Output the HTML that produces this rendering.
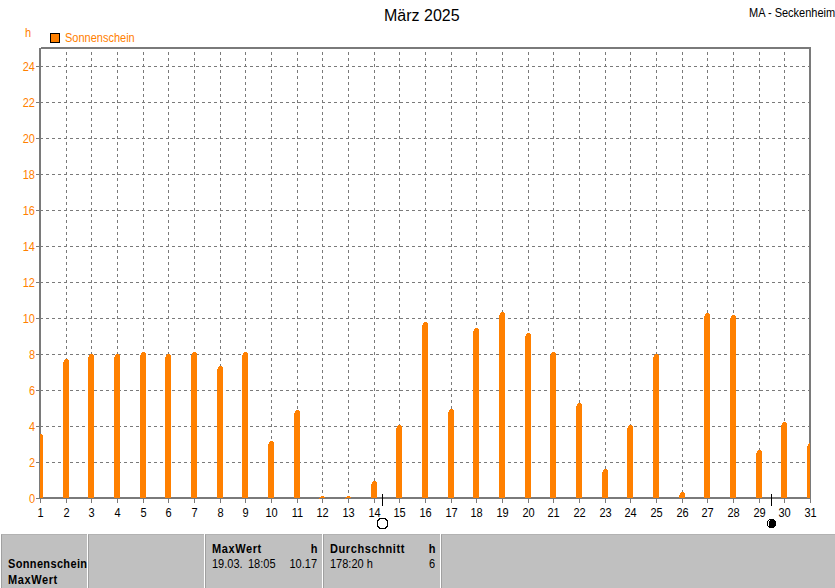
<!DOCTYPE html>
<html><head><meta charset="utf-8"><style>
html,body{margin:0;padding:0;background:#fff;}
body{width:835px;height:588px;position:relative;overflow:hidden;font-family:"Liberation Sans",sans-serif;font-size:11px;}
svg{position:absolute;left:0;top:0;}
.t{position:absolute;white-space:nowrap;line-height:13px;}
.s{transform:scaleY(1.125);transform-origin:0 0;}
.yl{left:0;width:35px;text-align:right;color:#FF8000;}
.xl{width:41px;text-align:center;color:#000;}
.title{font-size:16px;line-height:18px;}
.tab{position:absolute;top:534px;height:54px;background:#c0c0c0;border-top:1px solid #b2b2b2;border-left:1px solid #a0a0a0;box-sizing:border-box;overflow:hidden;}
.b{font-weight:bold;letter-spacing:0.6px;}
</style></head><body>
<svg width="835" height="588" viewBox="0 0 835 588" shape-rendering="crispEdges">
<defs><clipPath id="plot"><rect x="40" y="0" width="770" height="588"/></clipPath></defs>
<path d="M40 462.5H809" stroke="#7a7a7a" stroke-dasharray="3 3"/><path d="M40 426.5H809" stroke="#7a7a7a" stroke-dasharray="3 3"/><path d="M40 390.5H809" stroke="#7a7a7a" stroke-dasharray="3 3"/><path d="M40 354.5H809" stroke="#7a7a7a" stroke-dasharray="3 3"/><path d="M40 318.5H809" stroke="#7a7a7a" stroke-dasharray="3 3"/><path d="M40 282.5H809" stroke="#7a7a7a" stroke-dasharray="3 3"/><path d="M40 246.5H809" stroke="#7a7a7a" stroke-dasharray="3 3"/><path d="M40 210.5H809" stroke="#7a7a7a" stroke-dasharray="3 3"/><path d="M40 174.5H809" stroke="#7a7a7a" stroke-dasharray="3 3"/><path d="M40 138.5H809" stroke="#7a7a7a" stroke-dasharray="3 3"/><path d="M40 102.5H809" stroke="#7a7a7a" stroke-dasharray="3 3"/><path d="M40 66.5H809" stroke="#7a7a7a" stroke-dasharray="3 3"/><path d="M66.5 52V497" stroke="#7a7a7a" stroke-dasharray="3 3"/><path d="M91.5 52V497" stroke="#7a7a7a" stroke-dasharray="3 3"/><path d="M117.5 52V497" stroke="#7a7a7a" stroke-dasharray="3 3"/><path d="M143.5 52V497" stroke="#7a7a7a" stroke-dasharray="3 3"/><path d="M168.5 52V497" stroke="#7a7a7a" stroke-dasharray="3 3"/><path d="M194.5 52V497" stroke="#7a7a7a" stroke-dasharray="3 3"/><path d="M220.5 52V497" stroke="#7a7a7a" stroke-dasharray="3 3"/><path d="M245.5 52V497" stroke="#7a7a7a" stroke-dasharray="3 3"/><path d="M271.5 52V497" stroke="#7a7a7a" stroke-dasharray="3 3"/><path d="M297.5 52V497" stroke="#7a7a7a" stroke-dasharray="3 3"/><path d="M322.5 52V497" stroke="#7a7a7a" stroke-dasharray="3 3"/><path d="M348.5 52V497" stroke="#7a7a7a" stroke-dasharray="3 3"/><path d="M374.5 52V497" stroke="#7a7a7a" stroke-dasharray="3 3"/><path d="M399.5 52V497" stroke="#7a7a7a" stroke-dasharray="3 3"/><path d="M425.5 52V497" stroke="#7a7a7a" stroke-dasharray="3 3"/><path d="M451.5 52V497" stroke="#7a7a7a" stroke-dasharray="3 3"/><path d="M476.5 52V497" stroke="#7a7a7a" stroke-dasharray="3 3"/><path d="M502.5 52V497" stroke="#7a7a7a" stroke-dasharray="3 3"/><path d="M528.5 52V497" stroke="#7a7a7a" stroke-dasharray="3 3"/><path d="M553.5 52V497" stroke="#7a7a7a" stroke-dasharray="3 3"/><path d="M579.5 52V497" stroke="#7a7a7a" stroke-dasharray="3 3"/><path d="M605.5 52V497" stroke="#7a7a7a" stroke-dasharray="3 3"/><path d="M630.5 52V497" stroke="#7a7a7a" stroke-dasharray="3 3"/><path d="M656.5 52V497" stroke="#7a7a7a" stroke-dasharray="3 3"/><path d="M682.5 52V497" stroke="#7a7a7a" stroke-dasharray="3 3"/><path d="M707.5 52V497" stroke="#7a7a7a" stroke-dasharray="3 3"/><path d="M733.5 52V497" stroke="#7a7a7a" stroke-dasharray="3 3"/><path d="M759.5 52V497" stroke="#7a7a7a" stroke-dasharray="3 3"/><path d="M784.5 52V497" stroke="#7a7a7a" stroke-dasharray="3 3"/><rect x="36" y="498" width="3" height="1" fill="#7a7a7a"/><rect x="36" y="462" width="3" height="1" fill="#7a7a7a"/><rect x="36" y="426" width="3" height="1" fill="#7a7a7a"/><rect x="36" y="390" width="3" height="1" fill="#7a7a7a"/><rect x="36" y="354" width="3" height="1" fill="#7a7a7a"/><rect x="36" y="318" width="3" height="1" fill="#7a7a7a"/><rect x="36" y="282" width="3" height="1" fill="#7a7a7a"/><rect x="36" y="246" width="3" height="1" fill="#7a7a7a"/><rect x="36" y="210" width="3" height="1" fill="#7a7a7a"/><rect x="36" y="174" width="3" height="1" fill="#7a7a7a"/><rect x="36" y="138" width="3" height="1" fill="#7a7a7a"/><rect x="36" y="102" width="3" height="1" fill="#7a7a7a"/><rect x="36" y="66" width="3" height="1" fill="#7a7a7a"/><rect x="40" y="499" width="1" height="4" fill="#7a7a7a"/><rect x="66" y="499" width="1" height="4" fill="#7a7a7a"/><rect x="91" y="499" width="1" height="4" fill="#7a7a7a"/><rect x="117" y="499" width="1" height="4" fill="#7a7a7a"/><rect x="143" y="499" width="1" height="4" fill="#7a7a7a"/><rect x="168" y="499" width="1" height="4" fill="#7a7a7a"/><rect x="194" y="499" width="1" height="4" fill="#7a7a7a"/><rect x="220" y="499" width="1" height="4" fill="#7a7a7a"/><rect x="245" y="499" width="1" height="4" fill="#7a7a7a"/><rect x="271" y="499" width="1" height="4" fill="#7a7a7a"/><rect x="297" y="499" width="1" height="4" fill="#7a7a7a"/><rect x="322" y="499" width="1" height="4" fill="#7a7a7a"/><rect x="348" y="499" width="1" height="4" fill="#7a7a7a"/><rect x="374" y="499" width="1" height="4" fill="#7a7a7a"/><rect x="399" y="499" width="1" height="4" fill="#7a7a7a"/><rect x="425" y="499" width="1" height="4" fill="#7a7a7a"/><rect x="451" y="499" width="1" height="4" fill="#7a7a7a"/><rect x="476" y="499" width="1" height="4" fill="#7a7a7a"/><rect x="502" y="499" width="1" height="4" fill="#7a7a7a"/><rect x="528" y="499" width="1" height="4" fill="#7a7a7a"/><rect x="553" y="499" width="1" height="4" fill="#7a7a7a"/><rect x="579" y="499" width="1" height="4" fill="#7a7a7a"/><rect x="605" y="499" width="1" height="4" fill="#7a7a7a"/><rect x="630" y="499" width="1" height="4" fill="#7a7a7a"/><rect x="656" y="499" width="1" height="4" fill="#7a7a7a"/><rect x="682" y="499" width="1" height="4" fill="#7a7a7a"/><rect x="707" y="499" width="1" height="4" fill="#7a7a7a"/><rect x="733" y="499" width="1" height="4" fill="#7a7a7a"/><rect x="759" y="499" width="1" height="4" fill="#7a7a7a"/><rect x="784" y="499" width="1" height="4" fill="#7a7a7a"/><rect x="810" y="499" width="1" height="4" fill="#7a7a7a"/><rect x="39" y="48" width="2" height="451" fill="#7a7a7a"/><rect x="41" y="47" width="770" height="2" fill="#7a7a7a"/><rect x="809" y="47" width="2" height="452" fill="#7a7a7a"/><rect x="39" y="497" width="772" height="2" fill="#7a7a7a"/><g clip-path="url(#plot)"><path d="M37 498 L37 437 L38 437 L38 435 L39 435 L39 434 L42 434 L42 435 L43 435 L43 498Z" fill="#FF8000"/><path d="M63 498 L63 362 L64 362 L64 360 L65 360 L65 359 L68 359 L68 360 L69 360 L69 498Z" fill="#FF8000"/><path d="M88 498 L88 357 L89 357 L89 355 L90 355 L90 354 L93 354 L93 355 L94 355 L94 498Z" fill="#FF8000"/><path d="M114 498 L114 357 L115 357 L115 355 L116 355 L116 354 L119 354 L119 355 L120 355 L120 498Z" fill="#FF8000"/><path d="M140 498 L140 355 L141 355 L141 353 L142 353 L142 352 L145 352 L145 353 L146 353 L146 498Z" fill="#FF8000"/><path d="M165 498 L165 357 L166 357 L166 355 L167 355 L167 354 L170 354 L170 355 L171 355 L171 498Z" fill="#FF8000"/><path d="M191 498 L191 355 L192 355 L192 353 L193 353 L193 352 L196 352 L196 353 L197 353 L197 498Z" fill="#FF8000"/><path d="M217 498 L217 369 L218 369 L218 367 L219 367 L219 366 L222 366 L222 367 L223 367 L223 498Z" fill="#FF8000"/><path d="M242 498 L242 355 L243 355 L243 353 L244 353 L244 352 L247 352 L247 353 L248 353 L248 498Z" fill="#FF8000"/><path d="M268 498 L268 444 L269 444 L269 442 L270 442 L270 441 L273 441 L273 442 L274 442 L274 498Z" fill="#FF8000"/><path d="M294 498 L294 413 L295 413 L295 411 L296 411 L296 410 L299 410 L299 411 L300 411 L300 498Z" fill="#FF8000"/><path d="M319 498 L319 499 L320 499 L320 497 L321 497 L321 496 L324 496 L324 497 L325 497 L325 498Z" fill="#FF8000"/><path d="M345 498 L345 499 L346 499 L346 497 L347 497 L347 496 L350 496 L350 497 L351 497 L351 498Z" fill="#FF8000"/><path d="M371 498 L371 484 L372 484 L372 482 L373 482 L373 481 L376 481 L376 482 L377 482 L377 498Z" fill="#FF8000"/><path d="M396 498 L396 428 L397 428 L397 426 L398 426 L398 425 L401 425 L401 426 L402 426 L402 498Z" fill="#FF8000"/><path d="M422 498 L422 325 L423 325 L423 323 L424 323 L424 322 L427 322 L427 323 L428 323 L428 498Z" fill="#FF8000"/><path d="M448 498 L448 412 L449 412 L449 410 L450 410 L450 409 L453 409 L453 410 L454 410 L454 498Z" fill="#FF8000"/><path d="M473 498 L473 331 L474 331 L474 329 L475 329 L475 328 L478 328 L478 329 L479 329 L479 498Z" fill="#FF8000"/><path d="M499 498 L499 315 L500 315 L500 313 L501 313 L501 312 L504 312 L504 313 L505 313 L505 498Z" fill="#FF8000"/><path d="M525 498 L525 336 L526 336 L526 334 L527 334 L527 333 L530 333 L530 334 L531 334 L531 498Z" fill="#FF8000"/><path d="M550 498 L550 355 L551 355 L551 353 L552 353 L552 352 L555 352 L555 353 L556 353 L556 498Z" fill="#FF8000"/><path d="M576 498 L576 406 L577 406 L577 404 L578 404 L578 403 L581 403 L581 404 L582 404 L582 498Z" fill="#FF8000"/><path d="M602 498 L602 472 L603 472 L603 470 L604 470 L604 469 L607 469 L607 470 L608 470 L608 498Z" fill="#FF8000"/><path d="M627 498 L627 428 L628 428 L628 426 L629 426 L629 425 L632 425 L632 426 L633 426 L633 498Z" fill="#FF8000"/><path d="M653 498 L653 357 L654 357 L654 355 L655 355 L655 354 L658 354 L658 355 L659 355 L659 498Z" fill="#FF8000"/><path d="M679 498 L679 495 L680 495 L680 493 L681 493 L681 492 L684 492 L684 493 L685 493 L685 498Z" fill="#FF8000"/><path d="M704 498 L704 316 L705 316 L705 314 L706 314 L706 313 L709 313 L709 314 L710 314 L710 498Z" fill="#FF8000"/><path d="M730 498 L730 318 L731 318 L731 316 L732 316 L732 315 L735 315 L735 316 L736 316 L736 498Z" fill="#FF8000"/><path d="M756 498 L756 453 L757 453 L757 451 L758 451 L758 450 L761 450 L761 451 L762 451 L762 498Z" fill="#FF8000"/><path d="M781 498 L781 425 L782 425 L782 423 L783 423 L783 422 L786 422 L786 423 L787 423 L787 498Z" fill="#FF8000"/><path d="M807 498 L807 446 L808 446 L808 444 L809 444 L809 443 L812 443 L812 444 L813 444 L813 498Z" fill="#FF8000"/></g><rect x="382" y="494" width="1" height="12" fill="#000"/><rect x="379" y="518" width="7" height="1" fill="#000"/><rect x="379" y="528" width="7" height="1" fill="#000"/><rect x="377" y="520" width="1" height="7" fill="#000"/><rect x="387" y="520" width="1" height="7" fill="#000"/><rect x="378" y="519" width="2" height="1" fill="#000"/><rect x="385" y="519" width="2" height="1" fill="#000"/><rect x="378" y="527" width="2" height="1" fill="#000"/><rect x="385" y="527" width="2" height="1" fill="#000"/><rect x="378" y="520" width="1" height="1" fill="#000"/><rect x="386" y="520" width="1" height="1" fill="#000"/><rect x="378" y="526" width="1" height="1" fill="#000"/><rect x="386" y="526" width="1" height="1" fill="#000"/><rect x="771" y="494" width="1" height="12" fill="#000"/><rect x="769" y="519" width="5" height="1" fill="#000"/><rect x="768" y="520" width="7" height="1" fill="#000"/><rect x="767" y="521" width="9" height="5" fill="#000"/><rect x="768" y="526" width="7" height="1" fill="#000"/><rect x="769" y="527" width="5" height="1" fill="#000"/><rect x="769" y="520" width="1" height="1" fill="#fff"/><rect x="768" y="521" width="1" height="5" fill="#fff"/><rect x="50.5" y="33.5" width="9" height="9" fill="#FF8000" stroke="#000"/>
</svg>
<div class="t yl s" style="top:492px">0</div><div class="t yl s" style="top:456px">2</div><div class="t yl s" style="top:420px">4</div><div class="t yl s" style="top:384px">6</div><div class="t yl s" style="top:348px">8</div><div class="t yl s" style="top:312px">10</div><div class="t yl s" style="top:276px">12</div><div class="t yl s" style="top:240px">14</div><div class="t yl s" style="top:204px">16</div><div class="t yl s" style="top:168px">18</div><div class="t yl s" style="top:132px">20</div><div class="t yl s" style="top:96px">22</div><div class="t yl s" style="top:60px">24</div><div class="t xl s" style="left:20px;top:506px">1</div><div class="t xl s" style="left:46px;top:506px">2</div><div class="t xl s" style="left:71px;top:506px">3</div><div class="t xl s" style="left:97px;top:506px">4</div><div class="t xl s" style="left:123px;top:506px">5</div><div class="t xl s" style="left:148px;top:506px">6</div><div class="t xl s" style="left:174px;top:506px">7</div><div class="t xl s" style="left:200px;top:506px">8</div><div class="t xl s" style="left:225px;top:506px">9</div><div class="t xl s" style="left:251px;top:506px">10</div><div class="t xl s" style="left:277px;top:506px">11</div><div class="t xl s" style="left:302px;top:506px">12</div><div class="t xl s" style="left:328px;top:506px">13</div><div class="t xl s" style="left:354px;top:506px">14</div><div class="t xl s" style="left:379px;top:506px">15</div><div class="t xl s" style="left:405px;top:506px">16</div><div class="t xl s" style="left:431px;top:506px">17</div><div class="t xl s" style="left:456px;top:506px">18</div><div class="t xl s" style="left:482px;top:506px">19</div><div class="t xl s" style="left:508px;top:506px">20</div><div class="t xl s" style="left:533px;top:506px">21</div><div class="t xl s" style="left:559px;top:506px">22</div><div class="t xl s" style="left:585px;top:506px">23</div><div class="t xl s" style="left:610px;top:506px">24</div><div class="t xl s" style="left:636px;top:506px">25</div><div class="t xl s" style="left:662px;top:506px">26</div><div class="t xl s" style="left:687px;top:506px">27</div><div class="t xl s" style="left:713px;top:506px">28</div><div class="t xl s" style="left:739px;top:506px">29</div><div class="t xl s" style="left:764px;top:506px">30</div><div class="t xl s" style="left:790px;top:506px">31</div>
<div class="t title" style="left:384px;top:7px">März 2025</div>
<div class="t s" style="left:749px;top:6px;font-size:11px">MA - Seckenheim</div>
<div class="t s" style="left:25px;top:26px;color:#FF8000">h</div>
<div class="t s" style="left:65px;top:31px;color:#FF8000">Sonnenschein</div>
<div class="tab" style="left:1px;width:86px"><div class="t b s" style="left:6px;top:22px;letter-spacing:0.35px">Sonnenschein</div><div class="t b s" style="left:6px;top:38px">MaxWert</div></div>
<div class="tab" style="left:88px;width:116px"></div>
<div class="tab" style="left:205px;width:117px">
 <div class="t b s" style="left:6px;top:7px">MaxWert</div><div class="t b s" style="right:4px;top:7px">h</div>
 <div class="t s" style="left:6px;top:22px">19.03.</div><div class="t s" style="left:42px;top:22px">18:05</div><div class="t s" style="right:5px;top:22px">10.17</div>
</div>
<div class="tab" style="left:323px;width:117px">
 <div class="t b s" style="left:6px;top:7px">Durchschnitt</div><div class="t b s" style="right:4px;top:7px">h</div>
 <div class="t s" style="left:6px;top:22px">178:20 h</div><div class="t s" style="right:5px;top:22px">6</div>
</div>
<div class="tab" style="left:441px;width:394px"></div>
</body></html>
